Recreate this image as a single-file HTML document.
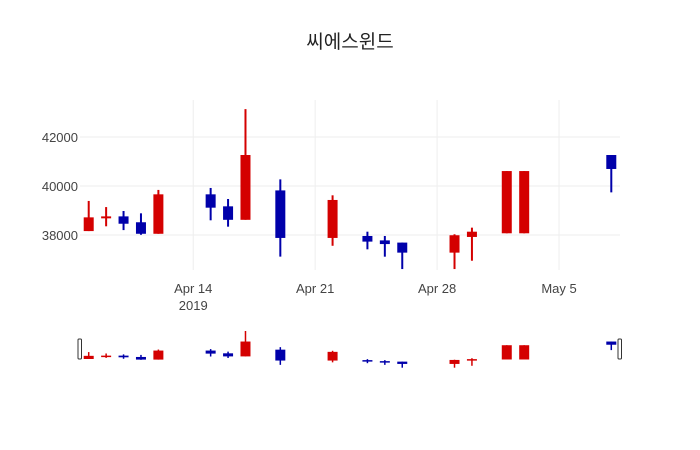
<!DOCTYPE html>
<html><head><meta charset="utf-8"><style>
body{margin:0;background:#fff;}
svg{display:block;font-family:"Liberation Sans","Noto Sans CJK KR",sans-serif;}
</style></head><body>
<svg id="chart" width="700" height="450" xmlns="http://www.w3.org/2000/svg">
<rect width="700" height="450" fill="#fff"/>
<text x="350" y="48" text-anchor="middle" font-size="19" fill="#222">씨에스윈드</text>
<g id="grid"></g>
<g id="main"></g>
<g id="xlabels"></g>
<g id="ylabels"></g>
<g id="slider"></g>
</svg>
<script>
const dates=["2019-04-08","2019-04-09","2019-04-10","2019-04-11","2019-04-12","2019-04-15","2019-04-16","2019-04-17","2019-04-19","2019-04-22","2019-04-24","2019-04-25","2019-04-26","2019-04-29","2019-04-30","2019-05-02","2019-05-03","2019-05-08"];
const openV=[38160,38680,38760,38520,38050,39660,39170,38620,39820,37880,37960,37780,37690,37280,37920,38070,38070,41265];
const closeV=[38720,38760,38460,38050,39660,39115,38620,41265,37880,39430,37730,37630,37280,37990,38135,40610,40610,40695];
const highV=[39390,39140,38980,38885,39840,39920,39470,43140,40270,39620,38135,37960,37690,38030,38300,40610,40610,41265];
const lowV=[38160,38355,38200,38010,38050,38600,38340,38620,37115,37560,37415,37115,36610,36610,36950,38070,38070,39740];
const yTicks=[38000,40000,42000];
const xTicks=[["2019-04-14","Apr 14","2019"],["2019-04-21","Apr 21",""],["2019-04-28","Apr 28",""],["2019-05-05","May 5",""]];

const NS="http://www.w3.org/2000/svg";
const day=86400000, t0=Date.UTC(2019,3,7,12), t1=Date.UTC(2019,4,8,12);
function ts(d){const p=d.split("-");return Date.UTC(+p[0],+p[1]-1,+p[2]);}
function x(d){return 80+(ts(d)-t0)/(t1-t0)*540;}
function y(v){return 235-(v-38000)*0.0245;}
const smin=Math.min(...lowV), smax=Math.max(...highV);
function ys(v){return 331+(smax-v)/(smax-smin)*36.7;}
function el(tag,attrs,parent){const e=document.createElementNS(NS,tag);for(const k in attrs)e.setAttribute(k,attrs[k]);parent.appendChild(e);return e;}
const grid=document.getElementById("grid"),main=document.getElementById("main"),xl=document.getElementById("xlabels"),yl=document.getElementById("ylabels"),sl=document.getElementById("slider");
yTicks.forEach(v=>{
  const g=el("line",{x1:80,x2:620,y1:y(v),y2:y(v),stroke:"#eee","stroke-width":1},grid);
  
  
  const t=el("text",{x:78,y:y(v)+5,"text-anchor":"end","font-size":13,fill:"#444"},yl);
  t.textContent=v;
  
  
});
xTicks.forEach(k=>{
  const g=el("line",{x1:x(k[0]),x2:x(k[0]),y1:100,y2:270,stroke:"#eee","stroke-width":1},grid);
  
  
  const t=el("text",{x:x(k[0]),y:293,"text-anchor":"middle","font-size":13,fill:"#444"},xl);
  t.textContent=k[1];
  
  
  if(k[2]){const t2=el("text",{x:x(k[0]),y:310,"text-anchor":"middle","font-size":13,fill:"#444"},xl);t2.textContent=k[2];
  
  }
});
function candle(i,parent,fy,bw,ww){
  const up=closeV[i]>=openV[i], c=up?"#d40000":"#0000aa", cx=x(dates[i]);
  const g=el("g",{},parent);
  
  
  el("line",{x1:cx,x2:cx,y1:fy(highV[i]),y2:fy(lowV[i]),stroke:c,"stroke-width":ww},g);
  const top=fy(Math.max(openV[i],closeV[i])), bot=fy(Math.min(openV[i],closeV[i]));
  el("rect",{x:cx-bw/2,y:top,width:bw,height:Math.max(bot-top,1.5),fill:c},g);
}
dates.forEach((d,i)=>{candle(i,main,y,10,2);candle(i,sl,ys,10,1.5);});
[79.5,619.5].forEach(hx=>{
  const h=el("rect",{x:hx-1.5,y:339,width:3.5,height:20,rx:1,fill:"#fff",stroke:"#333","stroke-width":1},sl);
  
  
});
</script>
</body></html>
